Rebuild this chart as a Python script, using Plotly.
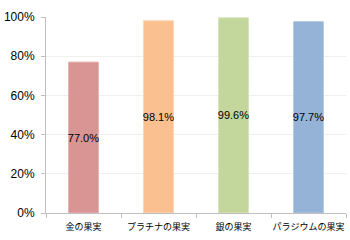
import plotly.graph_objects as go

categories = ["金の果実", "プラチナの果実", "銀の果実", "パラジウムの果実"]
values = [0.770, 0.981, 0.996, 0.977]
labels = ["77.0%", "98.1%", "99.6%", "97.7%"]
fill_colors = ["#D99594", "#FAC08F", "#C3D69B", "#95B3D7"]
line_colors = ["#E6B5B4", "#FCD5B4", "#D7E4BC", "#B8CCE4"]

fig = go.Figure()
fig.add_trace(go.Bar(
    x=categories, y=values, width=0.4,
    marker=dict(color=fill_colors, line=dict(color=line_colors, width=1)),
    text=labels, textposition="inside", insidetextanchor="middle",
    constraintext="none", textangle=0,
    textfont=dict(family="Liberation Sans, Arial", size=11, color="black"),
    hoverinfo="skip",
))

fig.update_layout(
    width=350, height=240,
    margin=dict(l=46, r=4, t=17, b=27),
    paper_bgcolor="white", plot_bgcolor="white",
    showlegend=False,
    font=dict(family="Liberation Sans, Arial", color="black"),
)
fig.update_xaxes(
    type="category", tickson="boundaries", ticks="outside", ticklen=4,
    tickcolor="#BFBFBF", showline=True, linecolor="#BFBFBF", linewidth=1,
    showgrid=False, tickangle=0, automargin=False, ticklabelstandoff=5,
    tickfont=dict(family="Noto Sans CJK JP", size=9, color="black"),
)
fig.update_yaxes(
    range=[0, 1], tickvals=[0, 0.2, 0.4, 0.6, 0.8, 1.0], tickformat=".0%",
    ticks="outside", ticklen=4, tickcolor="#BFBFBF", automargin=False,
    ticklabelstandoff=4,
    showline=True, linecolor="#BFBFBF", linewidth=1,
    showgrid=True, gridcolor="#EFEFEF", gridwidth=1, zeroline=False,
    tickfont=dict(family="Liberation Sans, Arial", size=12, color="black"),
)
fig.write_html("out.html")
